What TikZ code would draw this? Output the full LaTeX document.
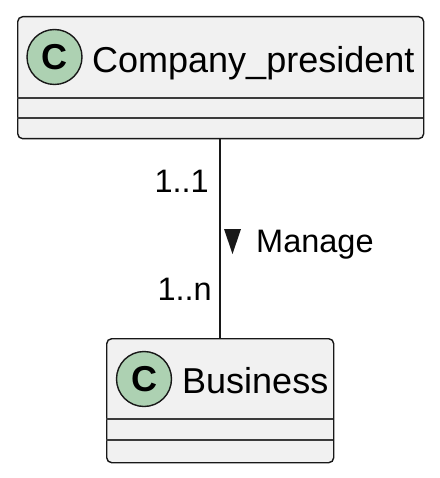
\documentclass[tikz,border=0pt]{standalone}
\usepackage{fontspec}
\setmainfont{Liberation Sans}
\definecolor{boxfill}{HTML}{F1F1F1}
\definecolor{boxline}{HTML}{181818}
\definecolor{circfill}{HTML}{ADD1B2}
\tikzset{
  classbox/.style={draw=boxline, fill=boxfill, line width=1.4pt, rounded corners=5pt, anchor=north west, inner sep=0pt},
  circ/.style={circle, draw=boxline, fill=circfill, line width=1.4pt, minimum size=55pt, inner sep=0pt, font=\fontsize{36}{36}\selectfont\bfseries},
  title/.style={anchor=base west, inner sep=0pt, font=\fontsize{36}{36}\selectfont},
  lbl/.style={anchor=base west, inner sep=0pt, font=\fontsize{32.5}{32.5}\selectfont},
  divider/.style={draw=boxline!85, line width=1.2pt},
  link/.style={draw=boxline, line width=1.4pt}
}
\begin{document}
\begin{tikzpicture}[x=1pt,y=-1pt]
\useasboundingbox (0,0) rectangle (439,478);
% Company_president class
\node[classbox, minimum width=406pt, minimum height=122pt] (cp) at (17,16) {};
\draw[divider] (17,98) -- (423,98);
\draw[divider] (17,118) -- (423,118);
\node[circ] (cpc) at (54.5,57) {C};
\node[title] (cpt) at (92,73) {Company\_president};
% Business class
\node[classbox, minimum width=227pt, minimum height=124pt] (bz) at (106,338) {};
\draw[divider] (106,419) -- (333,419);
\draw[divider] (106,440) -- (333,440);
\node[circ] (bzc) at (144,379) {C};
\node[title] (bzt) at (182,393) {Business};
% association
\draw[link] (cp.south -| 220,0) -- (220,338) coordinate (lend);
\node[lbl, anchor=base east] (m1) at (209,193) {1..1};
\node[lbl, anchor=base east] (m2) at (212,300) {1..n};
\fill[boxline] (224,229) -- (241,229) -- (232.5,254) -- cycle;
\node[lbl] (mg) at (256,252) {Manage};
\end{tikzpicture}
\end{document}
